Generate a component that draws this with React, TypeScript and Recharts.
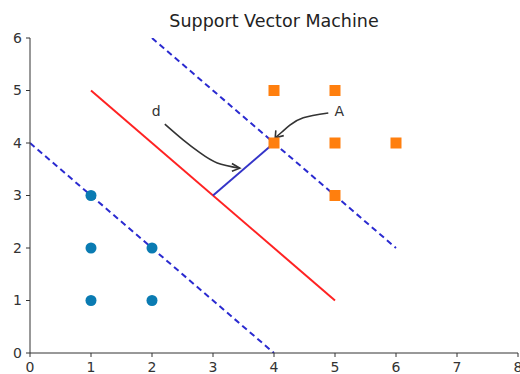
import React from 'react';
import {
  ComposedChart,
  Line,
  Scatter,
  XAxis,
  YAxis,
  ReferenceDot,
} from 'recharts';

const xTicks = [0, 1, 2, 3, 4, 5, 6, 7, 8];
const yTicks = [0, 1, 2, 3, 4, 5, 6];

// two classes of samples
const circlePoints = [
  { x: 1, y: 1 },
  { x: 1, y: 2 },
  { x: 1, y: 3 },
  { x: 2, y: 1 },
  { x: 2, y: 2 },
];
const squarePoints = [
  { x: 4, y: 5 },
  { x: 5, y: 5 },
  { x: 4, y: 4 },
  { x: 5, y: 4 },
  { x: 6, y: 4 },
  { x: 5, y: 3 },
];

// separating line, margins and the distance segment
const hyperplane = [{ x: 1, y: 5 }, { x: 5, y: 1 }];
const marginLow = [{ x: 0, y: 4 }, { x: 4, y: 0 }];
const marginHigh = [{ x: 2, y: 6 }, { x: 6, y: 2 }];
const distance = [{ x: 3, y: 3 }, { x: 4, y: 4 }];

// annotation arrows
const arrowD = [
  { x: 2.21, y: 4.36 },
  { x: 2.51, y: 4.06 },
  { x: 2.79, y: 3.81 },
  { x: 3.07, y: 3.62 },
  { x: 3.44, y: 3.52 },
];
const arrowDHead = [{ x: 3.31, y: 3.61 }, { x: 3.44, y: 3.52 }, { x: 3.31, y: 3.46 }];
const arrowA = [
  { x: 4.89, y: 4.57 },
  { x: 4.48, y: 4.48 },
  { x: 4.26, y: 4.34 },
  { x: 4.13, y: 4.21 },
  { x: 4.02, y: 4.1 },
];
const arrowAHead = [{ x: 4.03, y: 4.24 }, { x: 4.02, y: 4.1 }, { x: 4.16, y: 4.14 }];

const labels = [
  { x: 2.07, y: 4.61, text: 'd' },
  { x: 5.07, y: 4.61, text: 'A' },
];

const FONT = '"DejaVu Sans", sans-serif';
const tickStyle = { fill: '#333', fontSize: 14, fontFamily: FONT };

const Circle = (p: any) => <circle cx={p.cx} cy={p.cy} r={5.5} fill="#0a7bb2" />;
const Square = (p: any) => (
  <rect x={p.cx - 5.5} y={p.cy - 5.5} width={11} height={11} fill="#ff7f0e" />
);

export default function App() {
  return (
    <div style={{ position: 'absolute', left: 0, top: 0, width: 520, height: 374, background: '#fff' }}>
      <div
        style={{
          position: 'absolute',
          left: 30,
          width: 488,
          top: 11,
          textAlign: 'center',
          fontFamily: FONT,
          fontSize: 17.5,
          lineHeight: '20px',
          color: '#222',
        }}
      >
        Support Vector Machine
      </div>
      <ComposedChart width={520} height={374} margin={{ top: 38, right: 2, bottom: 0, left: 0 }}>
        <XAxis
          type="number"
          dataKey="x"
          domain={[0, 8]}
          ticks={xTicks}
          allowDataOverflow
          height={21}
          tickSize={4}
          tickMargin={5}
          stroke="#333"
          tick={tickStyle}
          interval={0}
        />
        <YAxis
          type="number"
          dataKey="y"
          domain={[0, 6]}
          ticks={yTicks}
          allowDataOverflow
          width={30}
          tickSize={4}
          tickMargin={4}
          stroke="#333"
          tick={tickStyle}
          interval={0}
        />
        <Scatter data={circlePoints} shape={Circle} isAnimationActive={false} />
        <Scatter data={squarePoints} shape={Square} isAnimationActive={false} />
        <Line data={hyperplane} dataKey="y" stroke="#f22" strokeWidth={2} dot={false} activeDot={false} isAnimationActive={false} />
        <Line data={marginLow} dataKey="y" stroke="#2a2ad0" strokeWidth={2} strokeDasharray="6 4" dot={false} activeDot={false} isAnimationActive={false} />
        <Line data={marginHigh} dataKey="y" stroke="#2a2ad0" strokeWidth={2} strokeDasharray="6 4" dot={false} activeDot={false} isAnimationActive={false} />
        <Line data={distance} dataKey="y" stroke="#3434c8" strokeWidth={2} dot={false} activeDot={false} isAnimationActive={false} />
        <Line data={arrowD} dataKey="y" type="natural" stroke="#333" strokeWidth={1.6} dot={false} activeDot={false} isAnimationActive={false} />
        <Line data={arrowDHead} dataKey="y" stroke="#333" strokeWidth={1.6} dot={false} activeDot={false} isAnimationActive={false} />
        <Line data={arrowA} dataKey="y" type="natural" stroke="#333" strokeWidth={1.6} dot={false} activeDot={false} isAnimationActive={false} />
        <Line data={arrowAHead} dataKey="y" stroke="#333" strokeWidth={1.6} dot={false} activeDot={false} isAnimationActive={false} />
        {labels.map((l) => (
          <ReferenceDot
            key={l.text}
            x={l.x}
            y={l.y}
            r={0}
            fill="none"
            stroke="none"
            label={{ value: l.text, position: 'center', fill: '#333', fontSize: 14, fontFamily: FONT }}
          />
        ))}
      </ComposedChart>
    </div>
  );
}
